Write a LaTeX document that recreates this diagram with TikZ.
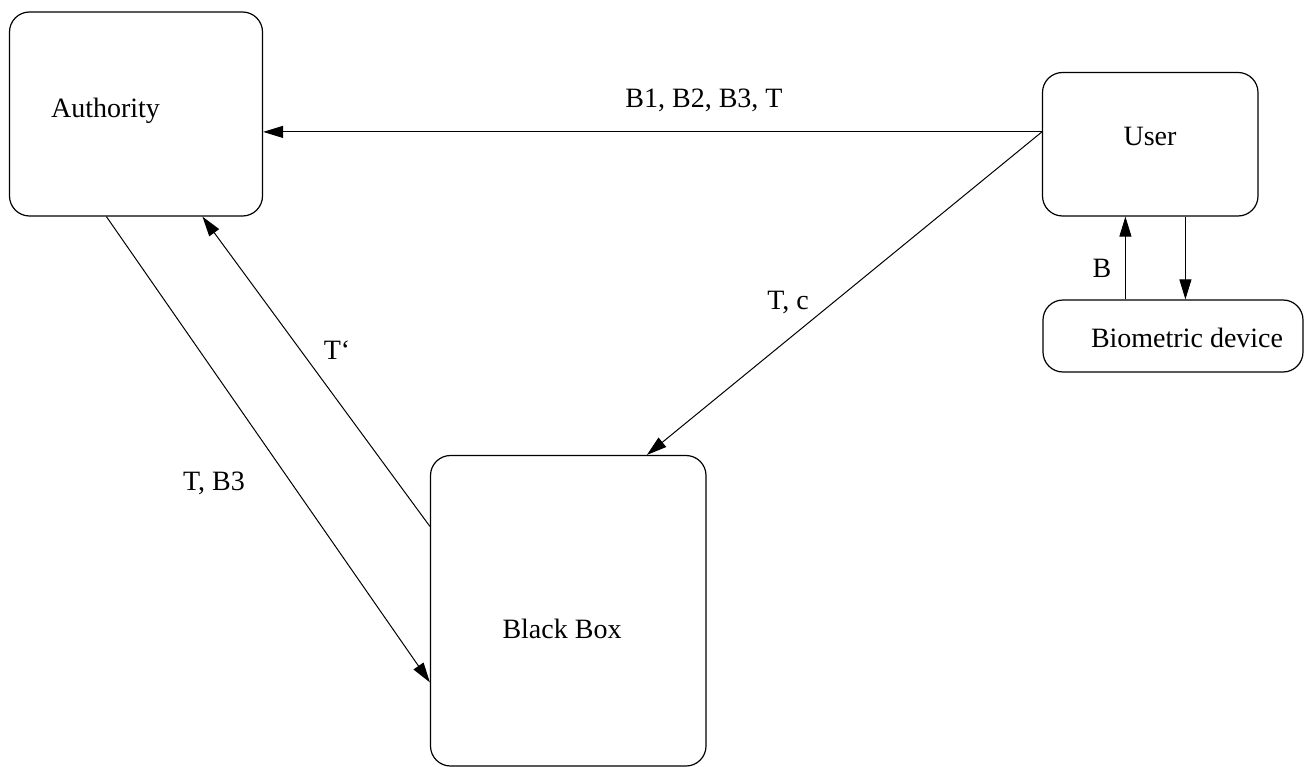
\documentclass[tikz,border=0pt]{standalone}
\usepackage{fontspec}
\setmainfont{Liberation Serif}
\usetikzlibrary{arrows.meta,calc}
\begin{document}
\begin{tikzpicture}[x=1pt,y=-1pt,
  box/.style={draw,rectangle,rounded corners=20pt,inner sep=0pt,line width=1.2pt},
  lbl/.style={inner sep=0pt,font=\fontsize{28}{34}\selectfont},
  arr/.style={line width=1pt,-{Triangle[length=20pt,width=12pt]}}]
\useasboundingbox (0,0) rectangle (1305,767);
\node[box,minimum width=253pt,minimum height=204pt] (auth) at (136,114) {};
\node[box,minimum width=215.5pt,minimum height=143.5pt] (user) at (1150.25,144.25) {};
\node[box,minimum width=260pt,minimum height=72pt] (bio) at (1173,336) {};
\node[box,minimum width=275.5pt,minimum height=310.5pt] (bb) at (568.25,610.75) {};
\node[lbl] (tauth) at (105.5,111) {Authority};
\node[lbl] (tuser) at (1150,136) {User};
\node[lbl] (tbio) at (1187,338) {Biometric device};
\node[lbl] (tbb) at (562,629) {Black Box};
\node[lbl] (l1) at (704,100) {B1, B2, B3, T};
\node[lbl] (l2) at (788,302) {T, c};
\node[lbl] (l3) at (214,483) {T, B3};
\node[lbl] (l4) at (337,350) {T‘};
\node[lbl] (l5) at (1102,268) {B};
\coordinate (us) at ($(user.north west)+(0,60)$);
\draw[arr] (us) -- (auth.east |- us);
\draw[arr] (us) -- ($(bb.north west)+(217,0)$);
\draw[arr] ($(auth.south west)+(97.5,0)$) -- ($(bb.north west)+(0,227.5)$);
\draw[arr] ($(bb.north west)+(0,71.5)$) -- ($(auth.south west)+(193.5,0)$);
\coordinate (bup) at ($(bio.north west)+(83,0)$);
\draw[arr] (bup) -- (user.south -| bup);
\coordinate (udn) at ($(user.south west)+(143.5,0)$);
\draw[arr] (udn) -- (bio.north -| udn);
\end{tikzpicture}
\end{document}
